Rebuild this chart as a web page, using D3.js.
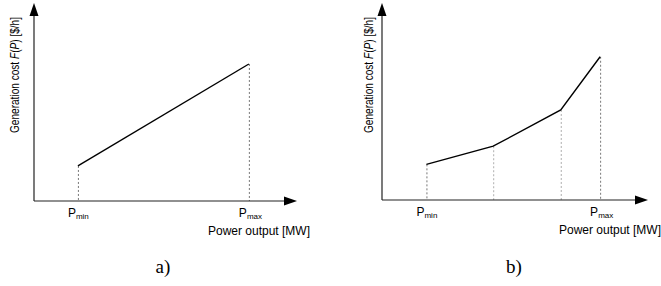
<!DOCTYPE html>
<html>
<head>
<meta charset="utf-8">
<script src="https://cdn.jsdelivr.net/npm/d3@7"></script>
<style>
  body { margin: 0; background: #fff; }
  text { font-family: "Liberation Sans", Arial, sans-serif; fill: #000; }
  .cap { font-family: "Liberation Serif", "Times New Roman", serif; font-size: 19px; }
</style>
</head>
<body>
<div id="chart"></div>
<script>
// panel a) linear cost curve, panel b) piecewise linear
const aPower = [1.67, 8.17];
const aCost = [1.77, 6.92];
const bPower = [1.67, 4.18, 6.72, 8.2];
const bCost = [1.81, 2.73, 4.57, 7.27];
const tickLabels = [["P", "min"], ["P", "max"]];

const svg = d3.select("#chart").append("svg")
  .attr("width", 661)
  .attr("height", 286);

const panels = [
  { power: aPower, cost: aCost, x0: 34, x1: 297, y0: 201, y1: 3, cap: "a)", capX: 163, ylabX: 15, ylabY: 75 },
  { power: bPower, cost: bCost, x0: 382, x1: 648, y0: 200, y1: 3, cap: "b)", capX: 514, ylabX: 369, ylabY: 75 }
];

panels.forEach(p => {
  const x = d3.scaleLinear().domain([0, 10]).range([p.x0, p.x1]);
  const y = d3.scaleLinear().domain([0, 10]).range([p.y0, p.y1]);
  const g = svg.append("g");
  const pts = p.power.map((v, i) => [v, p.cost[i]]);

  // dashed drop lines
  g.selectAll("line.drop")
    .data(pts)
    .join("line")
    .attr("class", "drop")
    .attr("x1", d => x(d[0]) + 0.5).attr("x2", d => x(d[0]) + 0.5)
    .attr("y1", d => y(d[1])).attr("y2", y(0))
    .attr("stroke", (d, i) => (i === 0 || i === pts.length - 1) ? "#555" : "#999")
    .attr("stroke-width", 0.8)
    .attr("stroke-dasharray", "2,2");

  // axes
  g.append("line")
    .attr("x1", x(0)).attr("x2", x(10) - 10)
    .attr("y1", y(0)).attr("y2", y(0))
    .attr("stroke", "#222").attr("stroke-width", 1.2);
  g.append("line")
    .attr("x1", x(0)).attr("x2", x(0))
    .attr("y1", y(0)).attr("y2", y(10) + 10)
    .attr("stroke", "#222").attr("stroke-width", 1.2);
  g.append("path")
    .attr("d", `M${x(10)},${y(0)} L${x(10) - 13},${y(0) - 4.5} L${x(10) - 13},${y(0) + 4.5} Z`)
    .attr("fill", "#000");
  g.append("path")
    .attr("d", `M${x(0)},${y(10)} L${x(0) - 4.5},${y(10) + 13} L${x(0) + 4.5},${y(10) + 13} Z`)
    .attr("fill", "#000");

  // cost curve
  g.append("path")
    .datum(pts)
    .attr("d", d3.line().x(d => x(d[0])).y(d => y(d[1])))
    .attr("fill", "none")
    .attr("stroke", "#000")
    .attr("stroke-width", 1.4);

  // Pmin / Pmax labels
  const ends = [p.power[0], p.power[p.power.length - 1]];
  ends.forEach((v, i) => {
    const t = g.append("text")
      .attr("x", x(v) - 10)
      .attr("y", y(0) + 16)
      .style("font-size", "12px");
    t.append("tspan").text(tickLabels[i][0]);
    t.append("tspan").text(tickLabels[i][1])
      .style("font-size", "8px")
      .attr("dy", 2);
  });

  g.append("text")
    .attr("x", x(10) + 13)
    .attr("y", y(0) + 34)
    .attr("text-anchor", "end")
    .style("font-size", "12px")
    .text("Power output [MW]");

  const yl = g.append("text")
    .attr("transform", `translate(${p.ylabX + 4},${p.ylabY}) rotate(-90)`)
    .attr("text-anchor", "middle")
    .attr("textLength", 116)
    .attr("lengthAdjust", "spacingAndGlyphs")
    .style("font-size", "12px");
  yl.append("tspan").text("Generation cost ");
  yl.append("tspan").text("F").style("font-style", "italic");
  yl.append("tspan").text("(");
  yl.append("tspan").text("P").style("font-style", "italic");
  yl.append("tspan").text(") [$/h]");

  g.append("text")
    .attr("class", "cap")
    .attr("x", p.capX)
    .attr("y", 273)
    .attr("text-anchor", "middle")
    .text(p.cap);
});
</script>
</body>
</html>
